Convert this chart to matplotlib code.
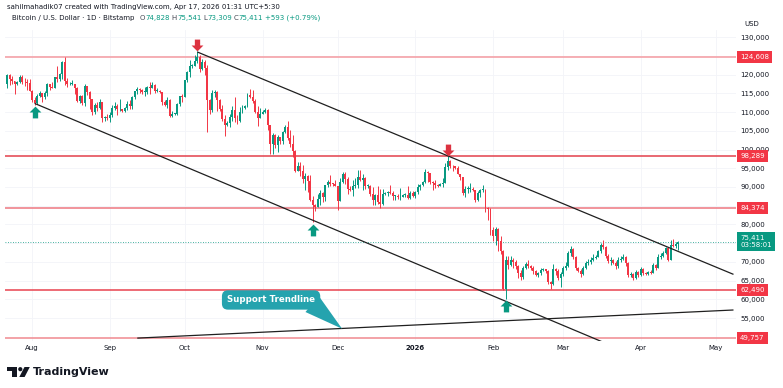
import numpy as np, pandas as pd, matplotlib
matplotlib.use("Agg")
import matplotlib.pyplot as plt
import matplotlib.dates as mdates
from matplotlib.path import Path
from matplotlib.patches import Rectangle, Circle, Polygon

plt.rcParams.update({"font.family": "DejaVu Sans", "font.size": 5})

# ----- BTC/USD daily, Bitstamp, values in thousands USD -----
START = "2025-07-22"
OPEN0 = 117.4   # open of first candle
close = [
    120.0,118.7,118.3,117.6,117.9,119.4,118.0,117.9,117.8,115.7,  # Jul 22-31
    113.3,112.5,114.2,115.0,114.1,115.0,117.5,116.7,116.5,119.3,118.7,120.2,123.3,118.4,117.4,117.5,117.5,116.3,112.9,114.3,
    112.5,116.9,115.4,113.5,110.1,111.8,111.2,112.6,108.4,108.8,108.3,  # Aug
    109.2,111.2,111.7,110.7,110.7,110.2,111.1,112.1,111.5,113.9,115.5,116.1,115.9,115.3,115.4,116.8,116.5,117.1,115.7,115.7,
    115.3,112.7,112.0,113.3,109.0,109.6,109.6,112.1,114.4,114.1,  # Sep
    118.6,120.6,122.3,122.4,123.5,124.8,121.4,123.3,121.7,113.2,110.6,115.2,115.3,113.1,110.8,108.2,106.5,107.2,108.6,110.6,
    108.5,107.6,110.1,111.0,111.6,114.5,114.1,112.9,110.0,108.3,109.6,  # Oct
    110.1,110.6,106.6,101.5,103.9,101.3,103.3,102.3,104.7,106.0,103.0,101.6,99.7,94.4,95.6,94.2,92.2,92.9,91.5,86.6,
    85.1,84.7,86.8,88.3,87.4,90.5,91.3,90.9,90.8,90.4,  # Nov
    86.3,91.3,93.5,92.1,89.4,89.3,90.4,90.6,92.7,92.0,92.5,90.3,90.3,88.2,86.4,87.8,86.1,85.5,88.1,88.3,
    88.6,88.5,87.6,87.6,87.2,87.3,87.8,87.8,87.1,88.4,87.5,  # Dec
    88.7,90.0,90.6,91.4,93.9,93.7,91.3,91.0,90.5,90.4,90.8,91.2,95.4,97.0,95.6,95.5,95.1,93.6,92.6,88.3,
    89.4,89.5,89.5,89.2,86.6,88.3,89.2,89.2,84.5,84.2,78.6,  # Jan
    76.9,78.7,75.7,73.0,62.9,70.5,69.3,70.6,70.0,68.8,67.0,66.0,68.3,69.5,68.8,68.4,67.5,66.5,67.0,67.8,
    68.0,67.6,64.6,64.0,68.1,67.5,65.8,66.9,  # Feb
    68.5,69.0,72.3,73.4,71.2,68.3,67.7,66.9,68.4,69.7,70.0,70.6,71.0,71.4,72.8,74.5,74.0,71.5,70.2,70.4,
    69.8,68.8,70.5,70.9,71.4,69.6,66.4,66.7,65.8,67.3,66.5,  # Mar
    68.0,67.0,66.8,67.4,67.1,69.2,68.5,71.3,71.7,72.4,73.6,70.6,74.4,74.3,74.828,75.411,  # Apr 1-16
]
high = [
    120.2,120.1,119.5,118.4,118.3,119.8,119.8,119.2,118.8,118.9,
    116.0,114.0,114.8,115.7,115.1,115.7,117.7,117.6,117.9,119.3,122.3,120.3,123.7,124.6,119.2,117.9,118.6,117.6,116.8,114.6,
    114.5,117.4,117.0,115.6,113.6,112.4,112.6,113.5,112.6,108.9,109.5,
    109.9,111.8,112.6,112.2,113.4,110.9,111.3,112.9,113.2,114.3,115.6,116.8,116.4,116.1,116.8,117.0,117.9,117.9,117.5,116.3,
    115.9,115.4,113.3,113.9,113.5,110.4,109.8,112.3,114.4,114.8,
    118.6,121.0,123.9,122.9,125.2,126.2,125.1,124.1,123.8,122.5,113.4,115.8,116.0,115.5,113.6,111.9,109.2,107.5,109.4,111.7,
    114.0,109.1,111.3,112.0,111.9,115.0,116.1,116.0,113.6,111.5,111.1,
    110.6,111.2,110.8,106.6,104.5,104.2,104.0,103.4,105.0,106.6,107.5,105.3,104.0,99.9,96.8,96.6,96.0,93.8,93.1,93.1,
    87.5,85.5,88.0,89.2,88.6,90.6,91.9,93.1,91.2,92.0,
    90.4,92.3,94.1,94.0,92.7,90.3,91.8,92.3,94.6,94.5,93.6,92.8,90.7,90.5,90.1,88.1,90.3,89.4,89.4,88.6,
    89.0,90.6,88.9,87.9,88.0,89.6,88.0,88.3,90.3,89.0,89.0,
    88.8,90.9,90.8,91.7,94.8,94.4,93.6,91.6,91.8,90.8,91.0,92.4,96.4,98.2,97.2,95.8,95.6,95.5,93.4,92.8,
    90.4,90.3,91.2,89.9,89.2,88.9,89.4,90.5,89.4,84.7,84.5,
    79.3,79.3,79.1,76.9,73.1,71.6,71.6,71.5,71.0,70.4,69.3,67.8,68.9,70.0,70.4,69.2,68.9,67.9,67.4,68.3,
    68.5,68.2,67.8,65.0,69.5,68.4,68.0,67.4,
    68.9,70.0,72.8,74.2,73.6,71.5,68.6,68.0,68.9,70.3,70.8,71.2,72.0,71.8,73.1,75.0,75.8,74.3,72.0,71.2,
    70.9,70.2,71.2,71.7,72.0,71.6,69.9,67.2,67.0,67.8,67.7,
    68.6,68.4,67.4,67.7,67.8,69.8,69.5,72.1,72.4,73.0,73.9,73.8,75.9,76.0,75.3,75.541,
]
low = [
    116.5,117.3,117.4,114.7,117.2,117.8,117.6,116.9,115.8,115.5,
    112.7,112.0,112.2,114.0,112.7,113.4,114.3,115.9,116.3,116.5,118.1,118.2,118.9,117.2,116.8,117.2,117.2,114.7,112.7,112.4,
    112.0,111.7,114.6,110.9,109.3,109.4,110.4,110.9,107.4,107.5,108.0,
    107.3,108.8,110.5,109.3,110.2,110.0,110.0,110.6,110.9,110.9,113.4,114.8,115.2,114.8,114.4,114.8,114.7,116.3,115.2,115.4,
    115.1,111.9,111.5,111.1,108.7,108.6,109.1,109.2,111.6,112.7,
    113.9,118.0,119.3,121.7,122.3,123.1,120.6,121.1,119.8,104.6,109.6,110.0,113.9,110.2,110.2,107.5,103.5,106.3,106.1,107.5,
    107.4,106.7,107.3,109.8,110.7,111.3,113.8,112.3,109.8,106.3,108.6,
    109.4,109.8,105.3,98.9,98.9,100.3,99.3,101.4,101.5,104.3,102.5,100.8,98.0,94.0,94.6,93.0,91.2,89.3,88.6,86.2,
    80.6,83.5,84.7,85.3,86.1,86.3,90.1,90.2,90.3,90.3,
    83.8,86.2,91.0,90.9,88.1,88.9,87.7,89.6,89.6,91.6,89.3,89.5,89.8,87.6,85.2,85.3,85.4,84.4,85.1,87.9,
    87.6,88.2,86.6,86.4,86.9,86.6,87.3,87.4,86.8,86.8,87.2,
    87.1,88.2,89.2,90.4,91.1,91.3,90.7,89.3,89.6,90.1,90.2,90.0,91.0,94.5,95.0,94.3,94.9,93.4,91.9,87.8,
    87.3,88.5,88.6,89.0,86.1,86.3,87.2,88.7,83.4,81.1,77.3,
    75.7,74.6,73.0,72.1,62.4,60.0,68.1,68.9,68.5,68.2,65.8,65.2,65.5,68.1,68.4,67.8,66.9,66.2,65.9,66.6,
    67.5,67.0,64.0,62.8,63.8,66.5,65.3,63.2,
    66.2,67.9,68.6,71.5,70.8,67.8,67.3,66.0,66.5,68.2,69.1,69.5,70.2,70.8,71.2,72.5,73.4,71.0,69.6,69.3,
    69.5,68.1,68.3,70.0,70.4,69.0,66.0,65.9,65.3,65.5,66.0,
    66.2,66.6,66.4,66.6,66.7,67.0,67.9,68.4,70.8,71.3,72.2,70.3,70.5,73.9,73.7,73.309,
]
assert len(close) == len(high) == len(low)

# drawn levels / annotations
LEVELS = [124608, 98289, 84374, 62490, 49757]
LEVEL_COLORS = ["#f49aa1", "#e3404c", "#ee7780", "#e8434f", "#f08990"]
LAST_PRICE, LAST_TIMER = 75411, "03:58:01"
UPPER_CH = [("2025-10-06", 126000), ("2026-05-08", 66700)]
LOWER_CH = [("2025-08-02", 112300), ("2026-03-17", 48600)]
SUPPORT = [("2025-09-12", 49700), ("2026-05-08", 57200)]
UP_ARROWS = [("2025-08-02", 110000), ("2025-11-21", 78500), ("2026-02-06", 58300)]
DOWN_ARROWS = [("2025-10-06", 127900), ("2026-01-14", 99900)]
CALLOUT_BOX = ("2025-11-04 10:00", 59870)
CALLOUT_TAIL = ("2025-11-20 19:00", 58800)
CALLOUT_TIP = ("2025-12-02 18:00", 52200)
MONTHS = ["2025-08-01","2025-09-01","2025-10-01","2025-11-01","2025-12-01","2026-01-01","2026-02-01","2026-03-01","2026-04-01","2026-05-01"]
MONTH_LABELS = ["Aug","Sep","Oct","Nov","Dec","2026","Feb","Mar","Apr","May"]
PRICE_TICKS = list(range(55000, 130001, 5000))
HIDDEN_TICKS = {125000, 85000, 75000}   # sit under the level / last-price tags

GREEN = "#089981"; RED = "#f23645"; DARK = "#131722"; TEAL = "#25a3ae"
d2n = lambda s: mdates.date2num(pd.Timestamp(s))

dates = pd.date_range(START, periods=len(close), freq="D")
x = mdates.date2num(dates)
c = np.array(close) * 1000
o = np.r_[OPEN0 * 1000, c[:-1]]   # 24/7 market: each candle opens at prior close
h = np.maximum(np.array(high) * 1000, np.maximum(o, c))
l = np.minimum(np.array(low) * 1000, np.minimum(o, c))
cols = np.where(c >= o, GREEN, RED)

fig = plt.figure(figsize=(7.83, 3.88), dpi=100)
ax = fig.add_axes([5/783, 1-341/388, 731/783, 311/388])
x0 = d2n("2025-08-01")
ax.set_xlim(x0-10.8, x0+281.0); ax.set_ylim(48930, 131870)
for sp in ax.spines.values(): sp.set_visible(False)
ax.grid(color="#f3f4f8", lw=0.6, zorder=0)

# candles
ax.vlines(x, l, h, colors=cols, lw=0.7, zorder=3)
ax.bar(x, np.maximum(np.abs(c-o), 200), bottom=np.minimum(o, c), width=0.78, color=cols, lw=0, zorder=3)

# horizontal levels + axis tags
for v, col in zip(LEVELS, LEVEL_COLORS):
    ax.axhline(v, color=col, lw=1.1, zorder=2)
    ax.text(1.0055, v, f"{v:,}", transform=ax.get_yaxis_transform(), ha="left", va="center", color="white",
            fontsize=5, zorder=9, clip_on=False, bbox=dict(boxstyle="square,pad=0.45", fc=RED, ec="none"))
ax.axhline(LAST_PRICE, color=GREEN, lw=0.6, ls=(0, (1, 2)), zorder=2)
ax.text(1.0055, LAST_PRICE, f"{LAST_PRICE:,}\n{LAST_TIMER}", transform=ax.get_yaxis_transform(), ha="left", va="center",
        color="white", fontsize=5, linespacing=1.15, zorder=9, clip_on=False,
        bbox=dict(boxstyle="square,pad=0.45", fc=GREEN, ec="none"))

# channel + support lines
for seg in (UPPER_CH, LOWER_CH, SUPPORT):
    ax.plot([d2n(seg[0][0]), d2n(seg[1][0])], [seg[0][1], seg[1][1]], color="#1f1f1f", lw=0.9, zorder=4,
            solid_capstyle="butt")

# arrows
UPM = Path([(-1, 0), (0, 1), (1, 0), (0.45, 0), (0.45, -1), (-0.45, -1), (-0.45, 0), (-1, 0)], closed=True)
DNM = Path([(px, -py) for px, py in UPM.vertices], closed=True)
ax.plot([d2n(d) for d, _ in UP_ARROWS], [p for _, p in UP_ARROWS], ls="none", marker=UPM, ms=8.5,
        color=GREEN, mec="none", zorder=7)
ax.plot([d2n(d) for d, _ in DOWN_ARROWS], [p for _, p in DOWN_ARROWS], ls="none", marker=DNM, ms=8.5,
        color="#dc3240", mec="none", zorder=7)

# callout
ax.annotate("", xy=(d2n(CALLOUT_TIP[0]), CALLOUT_TIP[1]), xytext=(d2n(CALLOUT_TAIL[0]), CALLOUT_TAIL[1]),
            arrowprops=dict(arrowstyle="wedge,tail_width=1.5", mutation_scale=10, fc=TEAL, ec="none",
                            shrinkA=0, shrinkB=0), zorder=7)
ax.annotate("Support Trendline", xy=(d2n(CALLOUT_BOX[0]), CALLOUT_BOX[1]), ha="center", va="center",
            color="white", fontsize=6.2, fontweight="bold", zorder=8,
            bbox=dict(boxstyle="round,pad=0.6,rounding_size=0.7", fc=TEAL, ec="none"))

# axes ticks
ax.yaxis.tick_right()
ax.set_yticks(PRICE_TICKS)
ax.set_yticklabels(["" if v in HIDDEN_TICKS else f"{v:,}" for v in PRICE_TICKS])
ax.set_xticks([d2n(m) for m in MONTHS]); ax.set_xticklabels(MONTH_LABELS)
ax.tick_params(axis="both", length=0, labelsize=5, labelcolor=DARK)
ax.tick_params(axis="y", pad=3)
ax.tick_params(axis="x", pad=2.6)
ax.get_xticklabels()[5].set_fontweight("bold")

# overlay in pixel coords for header / footer
ov = fig.add_axes([0, 0, 1, 1]); ov.set_xlim(0, 783); ov.set_ylim(388, 0); ov.axis("off")
ov.text(752, 24.5, "USD", ha="center", va="center", fontsize=5, color=DARK)
ov.text(7, 6.5, "sahilmahadik07 created with TradingView.com, Apr 17, 2026 01:31 UTC+5:30", va="center",
        fontsize=5, color=DARK)
prev = ov.text(12, 18, "Bitcoin / U.S. Dollar · 1D · Bitstamp", va="center", fontsize=5, color=DARK)
for s, col, gap in [("O", "#434651", 4.0), ("74,828", GREEN, 0), ("H", "#434651", 1.4), ("75,541", GREEN, 0),
                    ("L", "#434651", 1.4), ("73,309", GREEN, 0), ("C", "#434651", 1.4), ("75,411", GREEN, 0),
                    ("+593 (+0.79%)", GREEN, 1.4)]:
    prev = ov.annotate(s, xy=(1, 0), xycoords=prev, xytext=(gap, 0), textcoords="offset points",
                       va="bottom", ha="left", fontsize=5, color=col)
# TradingView logo
ov.add_patch(Rectangle((7, 367), 10, 4, fc=DARK, ec="none"))
ov.add_patch(Rectangle((12, 367), 5, 10, fc=DARK, ec="none"))
ov.add_patch(Circle((20.3, 369.2), 2.1, fc=DARK, ec="none"))
ov.add_patch(Polygon([(24.5, 367), (29.8, 367), (24.6, 377), (19.3, 377)], closed=True, fc=DARK, ec="none"))
ov.text(33, 372, "TradingView", va="center", ha="left", fontsize=8, fontweight="bold", color=DARK)

fig.savefig("out.png", dpi=100)
